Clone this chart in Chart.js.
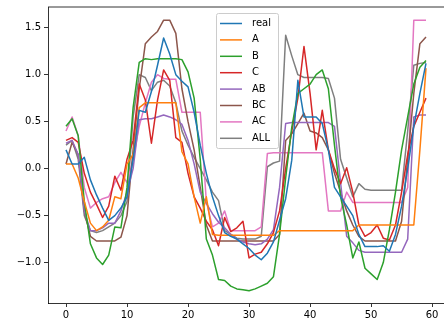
<!DOCTYPE html>
<html>
<head>
<meta charset="utf-8">
<script src="https://cdn.jsdelivr.net/npm/chart.js@4/dist/chart.umd.min.js"></script>
<style>
    html, body { margin: 0; padding: 0; background: #fff; }
</style>
</head>
<body>
<canvas id="chart" width="444" height="323"></canvas>
<script>
// sample values per series, one entry per step (0..59)
const real = [0.2, 0.05, 0.05, 0.12, -0.12, -0.28, -0.42, -0.55, -0.5, -0.42,
    -0.3, 0.1, 0.62, 0.6, 0.82, 1.1, 1.39, 1.22, 1.0, 0.93,
    0.87, 0.6, 0.25, -0.05, -0.3, -0.5, -0.68, -0.72, -0.75, -0.8,
    -0.85, -0.92, -0.97, -0.9, -0.78, -0.55, -0.32, 0.09, 0.94, 0.55,
    0.55, 0.55, 0.48, 0.2, -0.2, -0.3, -0.4, -0.5, -0.7, -0.83,
    -0.83, -0.83, -0.82, -0.88, -0.7, -0.4, 0.0, 0.45, 0.8, 1.12];
const serA = [0.05, 0.05, -0.1, -0.35, -0.58, -0.66, -0.62, -0.55, -0.3, -0.32,
    0.05, 0.15, 0.65, 0.7, 0.7, 0.7, 0.7, 0.7, 0.7, 0.18,
    0.05, -0.3, -0.58, -0.3, -0.7, -0.71, -0.71, -0.71, -0.71, -0.71,
    -0.71, -0.71, -0.71, -0.71, -0.71, -0.66, -0.66, -0.66, -0.66, -0.66,
    -0.66, -0.66, -0.66, -0.66, -0.66, -0.66, -0.66, -0.66, -0.6, -0.6,
    -0.6, -0.6, -0.6, -0.6, -0.6, -0.6, -0.6, -0.6, 0.2, 1.07];
const serB = [0.45, 0.53, 0.35, -0.35, -0.8, -0.95, -1.02, -0.92, -0.62, -0.63,
    -0.2, 0.65, 1.13, 1.17, 1.16, 1.17, 1.17, 1.17, 1.17, 1.16,
    1.03, 0.75, 0.1, -0.75, -0.92, -1.18, -1.19, -1.25, -1.28, -1.29,
    -1.3, -1.28, -1.25, -1.22, -1.15, -0.7, -0.1, 0.44, 0.8, 0.85,
    0.9, 1.0, 1.05, 0.85, 0.25, -0.3, -0.6, -0.95, -0.78, -1.06,
    -1.12, -1.18, -1.0, -0.65, -0.25, 0.2, 0.55, 0.9, 1.08, 1.15];
const serC = [0.3, 0.33, 0.28, -0.05, -0.25, -0.38, -0.52, -0.4, -0.08, -0.23,
    0.1, 0.3, 0.9, 0.73, 0.27, 0.73, 1.05, 0.94, 0.33, 0.28,
    -0.05, -0.3, -0.42, -0.56, -0.65, -0.82, -0.52, -0.67, -0.63, -0.56,
    -0.95, -0.91, -0.89, -0.8, -0.68, -0.45, 0.0, 0.4, 0.75, 1.3,
    0.8, 0.2, 0.62, 0.2, 0.0, -0.16, 0.01, -0.25, -0.6, -0.72,
    -0.68, -0.6, -0.74, -0.76, -0.6, -0.25, 0.15, 0.45, 0.6, 0.75];
const serAB = [0.27, 0.3, 0.15, -0.45, -0.66, -0.66, -0.63, -0.58, -0.58, -0.45,
    -0.25, 0.0, 0.52, 0.53, 0.53, 0.55, 0.57, 0.55, 0.52, 0.47,
    0.3, 0.05, -0.25, -0.37, -0.48, -0.57, -0.63, -0.7, -0.75, -0.78,
    -0.8, -0.81, -0.8, -0.75, -0.65, -0.2, 0.48, 0.49, 0.49, 0.49,
    0.49, 0.49, 0.49, 0.49, 0.45, -0.15, -0.72, -0.79, -0.87, -0.89,
    -0.89, -0.89, -0.89, -0.89, -0.89, -0.89, -0.75, 0.55, 0.57, 0.57];
const serBC = [0.05, 0.28, 0.15, -0.45, -0.72, -0.77, -0.77, -0.77, -0.77, -0.73,
    -0.5, 0.2, 0.85, 1.33, 1.4, 1.46, 1.58, 1.58, 1.44, 0.85,
    0.5, 0.2, -0.2, -0.6, -0.77, -0.77, -0.77, -0.77, -0.77, -0.77,
    -0.77, -0.77, -0.77, -0.77, -0.77, -0.7, 0.3, 0.37, 0.48, 0.59,
    0.4, 0.38, 0.33, 0.2, -0.05, -0.25, -0.45, -0.6, -0.72, -0.77,
    -0.77, -0.77, -0.77, -0.77, -0.77, -0.56, 0.1, 0.8, 1.33, 1.4];
const serAC = [0.4, 0.55, 0.35, -0.2, -0.42, -0.36, -0.32, -0.3, -0.15, -0.04,
    -0.15, 0.1, 0.45, 0.7, 0.92, 1.0, 0.96, 0.95, 0.95, 0.6,
    0.6, 0.6, 0.6, -0.35, -0.62, -0.58, -0.45, -0.66, -0.66, -0.66,
    -0.66, -0.66, -0.62, 0.16, 0.17, 0.17, 0.17, 0.17, 0.17, 0.17,
    0.17, 0.17, 0.17, -0.45, -0.45, -0.45, -0.25, -0.36, -0.36, -0.36,
    -0.36, -0.36, -0.36, -0.36, -0.36, -0.36, -0.2, 1.58, 1.58, 1.58];
const serALL = [0.25, 0.3, 0.1, -0.5, -0.66, -0.68, -0.66, -0.62, -0.58, -0.5,
    -0.35, 0.55, 1.0, 0.97, 0.83, 0.92, 0.94, 0.88, 0.7, 0.4,
    0.25, 0.12, 0.0, -0.12, -0.25, -0.34, -0.66, -0.7, -0.74, -0.75,
    -0.75, -0.75, -0.72, 0.02, 0.06, 0.08, 1.42, 1.2, 1.0, 0.97,
    0.97, 0.97, 0.97, 0.96, 0.75, 0.1, -0.1, -0.3, -0.16, -0.22,
    -0.23, -0.23, -0.23, -0.23, -0.23, -0.23, 0.4, 1.1, 1.12, 1.13];

const seriesNames = ['real', 'A', 'B', 'C', 'AB', 'BC', 'AC', 'ALL'];
const seriesColors = ['#1f77b4', '#ff7f0e', '#2ca02c', '#d62728', '#9467bd', '#8c564b', '#e377c2', '#7f7f7f'];
const xTicks = [0, 10, 20, 30, 40, 50, 60];
const yTicks = [-1.0, -0.5, 0.0, 0.5, 1.0, 1.5];

const allSeries = [real, serA, serB, serC, serAB, serBC, serAC, serALL];
const steps = real.map((v, i) => i);

const FONT = { family: 'DejaVu Sans', size: 10 };

// top spine only; the right spine sits at the canvas edge in the reference
const topSpine = {
    id: 'topSpine',
    afterDatasetsDraw(chart) {
        const a = chart.chartArea;
        const ctx = chart.ctx;
        ctx.save();
        ctx.strokeStyle = '#000';
        ctx.lineWidth = 0.8;
        ctx.beginPath();
        ctx.moveTo(a.left, a.top);
        ctx.lineTo(chart.width, a.top);
        ctx.stroke();
        ctx.restore();
    }
};

// legend box floating inside the plot, upper middle
const boxLegend = {
    id: 'boxLegend',
    afterDraw(chart) {
        const ctx = chart.ctx;
        const left = 216, top = 13, width = 62, height = 135;
        ctx.save();
        ctx.fillStyle = 'rgba(255,255,255,0.8)';
        ctx.strokeStyle = '#cccccc';
        ctx.lineWidth = 1;
        ctx.beginPath();
        ctx.roundRect(left + 0.5, top + 0.5, width, height, 2);
        ctx.fill();
        ctx.stroke();
        ctx.font = FONT.size + 'px "' + FONT.family + '"';
        ctx.textBaseline = 'middle';
        ctx.fillStyle = '#000';
        chart.data.datasets.forEach((ds, k) => {
            const y = top + 10.5 + k * 16.4;
            ctx.strokeStyle = ds.borderColor;
            ctx.lineWidth = 1.5;
            ctx.beginPath();
            ctx.moveTo(left + 4, y);
            ctx.lineTo(left + 26, y);
            ctx.stroke();
            ctx.fillText(ds.label, left + 36, y);
        });
        ctx.restore();
    }
};

function makeDatasets() {
    return allSeries.map((values, k) => ({
        label: seriesNames[k],
        data: values,
        borderColor: seriesColors[k],
        backgroundColor: seriesColors[k],
        borderWidth: 1.5,
        borderJoinStyle: 'round',
        pointRadius: 0,
        tension: 0,
        fill: false
    }));
}

function formatTick(v) {
    return v.toFixed(1).replace('-', '\u2212');
}

const chartOptions = {
    type: 'line',
    data: {
        labels: steps,
        datasets: makeDatasets()
    },
    options: {
        responsive: false,
        animation: false,
        layout: {
            padding: { top: 7, right: 0, bottom: 0, left: 0 }
        },
        scales: {
            x: {
                type: 'linear',
                min: -2.95,
                max: 61.95,
                afterBuildTicks: scale => { scale.ticks = xTicks.map(v => ({ value: v })); },
                afterFit: scale => {
                    scale.height = 20;
                    scale.paddingLeft = 0;
                    scale.paddingRight = 0;
                },
                grid: {
                    drawOnChartArea: false,
                    drawTicks: true,
                    tickLength: 4,
                    tickColor: '#000',
                    tickWidth: 0.8
                },
                border: { display: true, color: '#000', width: 0.8 },
                ticks: {
                    color: '#000',
                    font: FONT,
                    padding: 2,
                    maxRotation: 0,
                    autoSkip: false,
                    callback: v => String(v)
                }
            },
            y: {
                type: 'linear',
                min: -1.43,
                max: 1.72,
                afterBuildTicks: scale => { scale.ticks = yTicks.map(v => ({ value: v })); },
                afterFit: scale => {
                    scale.width = 48;
                    scale.paddingTop = 0;
                    scale.paddingBottom = 0;
                },
                grid: {
                    drawOnChartArea: false,
                    drawTicks: true,
                    tickLength: 4,
                    tickColor: '#000',
                    tickWidth: 0.8
                },
                border: { display: true, color: '#000', width: 0.8 },
                ticks: {
                    color: '#000',
                    font: FONT,
                    padding: 3,
                    autoSkip: false,
                    callback: v => formatTick(v)
                }
            }
        },
        plugins: {
            legend: { display: false },
            tooltip: { enabled: false }
        }
    },
    plugins: [topSpine, boxLegend]
};

new Chart(document.getElementById('chart').getContext('2d'), chartOptions);
</script>
</body>
</html>
